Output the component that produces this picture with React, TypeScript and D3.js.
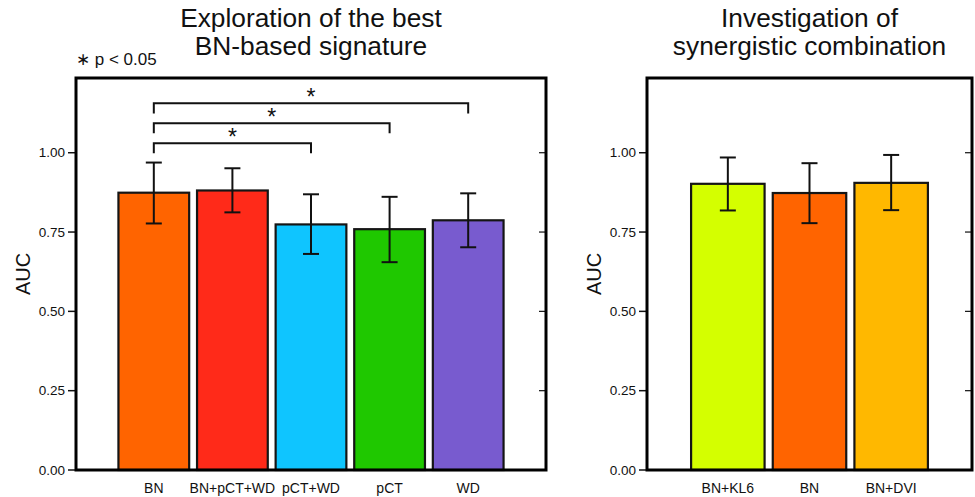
import React from "react";
import * as d3 from "d3";

// ---- Data ----
const leftTitle = ["Exploration of the best", "BN-based signature"];
const rightTitle = ["Investigation of", "synergistic combination"];
const yTicks = [0, 0.25, 0.5, 0.75, 1.0];
const yLabel = "AUC";
const sigNote = "\u2217 p < 0.05";

const leftCategories = ["BN", "BN+pCT+WD", "pCT+WD", "pCT", "WD"];
const leftValues = [0.874, 0.881, 0.774, 0.759, 0.787];
const leftErrLow = [0.777, 0.812, 0.681, 0.655, 0.702];
const leftErrHigh = [0.969, 0.951, 0.869, 0.861, 0.872];
const leftColors = ["#ff6400", "#ff2a19", "#0fc5ff", "#1fc800", "#785bcf"];

const rightCategories = ["BN+KL6", "BN", "BN+DVI"];
const rightValues = [0.902, 0.873, 0.905];
const rightErrLow = [0.818, 0.778, 0.819];
const rightErrHigh = [0.985, 0.967, 0.993];
const rightColors = ["#d4ff00", "#ff6400", "#ffb800"];

const bracketFrom = "BN";
const bracketTo = ["pCT+WD", "pCT", "WD"];
const bracketLevels = [1.03, 1.093, 1.156];
const bracketLeg = 0.032;
const bracketMark = "*";

const FONT = "'Liberation Sans', Arial, Helvetica, sans-serif";

type PanelProps = {
  x0: number;
  x1: number;
  categories: string[];
  values: number[];
  lo: number[];
  hi: number[];
  colors: string[];
  title: string[];
  labelX: number;
  brackets?: boolean;
};

const TOP = 78;
const BOTTOM = 470;

function Panel(p: PanelProps) {
  const y = d3.scaleLinear().domain([0, 1.2355]).range([BOTTOM, TOP]);
  const x = d3
    .scaleBand<string>()
    .domain(p.categories)
    .range([p.x0, p.x1])
    .paddingInner(0.1)
    .paddingOuter(0.54);
  const bw = x.bandwidth();
  const cx = (c: string) => (x(c) as number) + bw / 2;
  const capW = 16;
  const midX = (p.x0 + p.x1) / 2;
  return (
    <g>
      {/* title */}
      <text x={midX} y={27} textAnchor="middle" fontSize={26.3} fontFamily={FONT} fill="#111">
        {p.title[0]}
      </text>
      <text x={midX} y={55} textAnchor="middle" fontSize={26.3} fontFamily={FONT} fill="#111">
        {p.title[1]}
      </text>
      {/* y label */}
      <text
        transform={`translate(${p.labelX},${(TOP + BOTTOM) / 2}) rotate(-90)`}
        textAnchor="middle"
        fontSize={20}
        fontFamily={FONT}
        fill="#111"
      >
        {yLabel}
      </text>
      {/* bars */}
      {p.categories.map((c, i) => (
        <rect
          key={c}
          x={x(c) as number}
          y={y(p.values[i])}
          width={bw}
          height={y(0) - y(p.values[i])}
          fill={p.colors[i]}
          stroke="#151515"
          strokeWidth={2.2}
        />
      ))}
      {/* error bars */}
      {p.categories.map((c, i) => (
        <g key={c + "e"} stroke="#111" strokeWidth={2}>
          <line x1={cx(c)} x2={cx(c)} y1={y(p.lo[i])} y2={y(p.hi[i])} />
          <line x1={cx(c) - capW / 2} x2={cx(c) + capW / 2} y1={y(p.hi[i])} y2={y(p.hi[i])} />
          <line x1={cx(c) - capW / 2} x2={cx(c) + capW / 2} y1={y(p.lo[i])} y2={y(p.lo[i])} />
        </g>
      ))}
      {/* brackets */}
      {p.brackets &&
        bracketTo.map((t, i) => {
          const a = cx(bracketFrom);
          const b = cx(t);
          const ly = y(bracketLevels[i]);
          const lb = y(bracketLevels[i] - bracketLeg);
          return (
            <g key={t}>
              <path
                d={`M${a},${lb}V${ly}H${b}V${lb}`}
                fill="none"
                stroke="#111"
                strokeWidth={2}
              />
              <text
                x={(a + b) / 2}
                y={ly + 2}
                textAnchor="middle"
                fontSize={23}
                fontFamily={FONT}
                fill="#111"
              >
                {bracketMark}
              </text>
            </g>
          );
        })}
      {/* ticks */}
      {yTicks.map((t) => (
        <g key={t}>
          <line x1={p.x0 - 8} x2={p.x0} y1={y(t)} y2={y(t)} stroke="#111" strokeWidth={1.5} />
          <line x1={p.x1 - 7} x2={p.x1} y1={y(t)} y2={y(t)} stroke="#111" strokeWidth={1.2} />
          <text
            x={p.x0 - 11}
            y={y(t)}
            dy="0.35em"
            textAnchor="end"
            fontSize={13.5}
            fontFamily={FONT}
            fill="#111"
          >
            {d3.format(".2f")(t)}
          </text>
        </g>
      ))}
      {/* x labels */}
      {p.categories.map((c) => (
        <text
          key={c + "l"}
          x={cx(c)}
          y={493}
          textAnchor="middle"
          fontSize={14}
          fontFamily={FONT}
          fill="#111"
        >
          {c}
        </text>
      ))}
      {/* frame */}
      <rect
        x={p.x0}
        y={TOP}
        width={p.x1 - p.x0}
        height={BOTTOM - TOP}
        fill="none"
        stroke="#000"
        strokeWidth={3}
      />
    </g>
  );
}

export default function App() {
  return (
    <svg
      width={975}
      height={497}
      style={{ position: "absolute", left: 0, top: 0, display: "block", background: "#fff" }}
    >
      <rect width={975} height={497} fill="#fff" />
      <Panel
        x0={76}
        x1={546}
        categories={leftCategories}
        values={leftValues}
        lo={leftErrLow}
        hi={leftErrHigh}
        colors={leftColors}
        title={leftTitle}
        labelX={30}
        brackets
      />
      <Panel
        x0={647}
        x1={972}
        categories={rightCategories}
        values={rightValues}
        lo={rightErrLow}
        hi={rightErrHigh}
        colors={rightColors}
        title={rightTitle}
        labelX={601}
      />
      <text x={76} y={65} fontSize={17} fontFamily={FONT} fill="#111">
        {sigNote}
      </text>
    </svg>
  );
}
